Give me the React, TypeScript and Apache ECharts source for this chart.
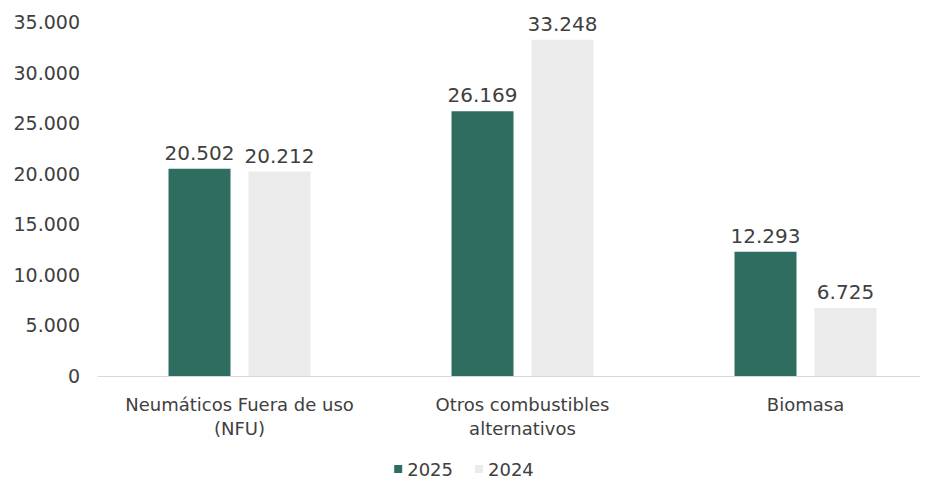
import React, { useEffect, useRef } from "react";
import * as echarts from "echarts";

const categories = ["Neumáticos Fuera de uso\n(NFU)", "Otros combustibles\nalternativos", "Biomasa"];
const seriesNames = ["2025", "2024"];
const values2025 = [20502, 26169, 12293];
const values2024 = [20212, 33248, 6725];
const yTicks = { min: 0, max: 35000, interval: 5000 };

const fmt = (v: number) => {
  const s = Math.round(v).toString();
  return s.replace(/\B(?=(\d{3})+(?!\d))/g, ".");
};

export default function App() {
  const ref = useRef<HTMLDivElement>(null);
  useEffect(() => {
    if (!ref.current) return;
    const chart = echarts.init(ref.current, null, { renderer: "svg" });
    const font = "DejaVu Sans";
    const textColor = "#404040";
    chart.setOption({
      animation: false,
      textStyle: { fontFamily: font },
      grid: { left: 98, width: 849, top: 22, height: 354, containLabel: false, outerBoundsMode: "none" },
      legend: {
        bottom: 3,
        left: "center",
        itemWidth: 8,
        itemHeight: 8,
        itemGap: 22,
        icon: "rect",
        textStyle: { color: textColor, fontSize: 18, fontFamily: font },
        data: seriesNames,
      },
      xAxis: {
        type: "category",
        data: categories,
        axisLine: { show: true, lineStyle: { color: "#d9d9d9", width: 1 } },
        axisTick: { show: false },
        axisLabel: { color: textColor, fontSize: 18, lineHeight: 24, margin: 16, fontFamily: font, interval: 0 },
      },
      yAxis: {
        type: "value",
        min: yTicks.min,
        max: yTicks.max,
        interval: yTicks.interval,
        axisLine: { show: false },
        axisTick: { show: false },
        splitLine: { show: false },
        axisLabel: { color: textColor, fontSize: 19, margin: 18, fontFamily: font, formatter: (v: number) => fmt(v) },
      },
      series: [
        {
          name: seriesNames[0],
          type: "bar",
          data: values2025,
          barWidth: 62,
          barGap: "29%",
          itemStyle: { color: "#2e6d60" },
          label: { show: true, position: "top", distance: 6, color: textColor, fontSize: 20, fontFamily: font, formatter: (p: any) => fmt(p.value) },
        },
        {
          name: seriesNames[1],
          type: "bar",
          data: values2024,
          barWidth: 62,
          barGap: "29%",
          itemStyle: { color: "#ebebeb" },
          label: { show: true, position: "top", distance: 6, color: textColor, fontSize: 20, fontFamily: font, formatter: (p: any) => fmt(p.value) },
        },
      ],
    });
    return () => chart.dispose();
  }, []);
  return <div ref={ref} style={{ width: 928, height: 486, margin: -8 }} />;
}
